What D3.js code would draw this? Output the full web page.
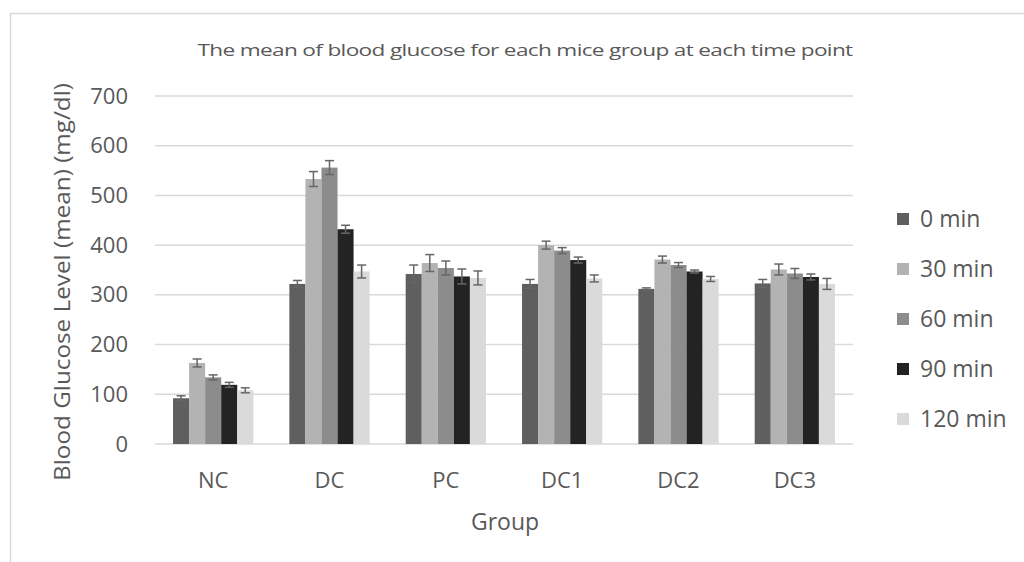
<!DOCTYPE html>
<html lang="en">
<head>
  <meta charset="UTF-8">
  <title>Blood glucose</title>
  <script src="https://d3js.org/d3.v7.min.js" charset="utf-8"></script>
  <style>
    body { margin: 0; background: #fff; }
    text { font-family: "Open Sans", sans-serif; fill: #595959; }
  </style>
</head>
<body>
  <div id="wrapper"></div>
  <script>
    const groups = ['NC', 'DC', 'PC', 'DC1', 'DC2', 'DC3']
    const times = ['0 min', '30 min', '60 min', '90 min', '120 min']
    const colors = ['#5f5f5f', '#b3b3b3', '#8c8c8c', '#232323', '#dadada']
    const yTicks = [0, 100, 200, 300, 400, 500, 600, 700]

    // mean per group, one array per time point
    const mean0 = [92, 322, 342, 322, 312, 323]
    const mean30 = [163, 533, 364, 400, 371, 351]
    const mean60 = [134, 556, 354, 389, 360, 343]
    const mean90 = [119, 432, 337, 370, 347, 336]
    const mean120 = [108, 347, 334, 333, 332, 322]

    // error (+/-) per group
    const err0 = [5, 7, 18, 9, 2, 8]
    const err30 = [8, 15, 17, 8, 7, 11]
    const err60 = [5, 14, 14, 6, 5, 10]
    const err90 = [5, 8, 15, 6, 3, 6]
    const err120 = [5, 13, 14, 7, 5, 11]

    const means = [mean0, mean30, mean60, mean90, mean120]
    const errs = [err0, err30, err60, err90, err120]

    const dataset = groups.map((g, i) => ({
      group: g,
      values: times.map((t, j) => ({ time: t, mean: means[j][i], err: errs[j][i], idx: j }))
    }))

    const width = 1024
    const height = 562
    const plot = { left: 155, right: 853, top: 96, bottom: 444 }

    const svg = d3.select('#wrapper')
      .append('svg')
        .attr('width', width)
        .attr('height', height)

    // chart frame
    svg.append('rect')
      .attr('x', 10.5)
      .attr('y', 13.5)
      .attr('width', width)
      .attr('height', height)
      .attr('fill', 'none')
      .attr('stroke', '#d9d9d9')
      .attr('stroke-width', 1.5)

    const yScale = d3.scaleLinear()
      .domain([0, 700])
      .range([plot.bottom, plot.top])

    const x0 = d3.scaleBand()
      .domain(groups)
      .range([plot.left, plot.right])
      .paddingInner(0.31)
      .paddingOuter(0.155)

    const x1 = d3.scaleBand()
      .domain(times)
      .range([0, x0.bandwidth()])

    const colorScale = d3.scaleOrdinal().domain(times).range(colors)

    // gridlines
    svg.append('g')
      .selectAll('line')
      .data(yTicks)
      .join('line')
        .attr('x1', plot.left)
        .attr('x2', plot.right)
        .attr('y1', d => yScale(d))
        .attr('y2', d => yScale(d))
        .attr('stroke', '#d9d9d9')
        .attr('stroke-width', 1.5)

    // y axis labels
    const yAxis = svg.append('g')
      .attr('transform', `translate(${plot.left}, 0)`)
      .call(d3.axisLeft(yScale).tickValues(yTicks).tickSize(0).tickPadding(27))
    yAxis.select('.domain').remove()
    yAxis.selectAll('text')
      .attr('font-size', 22)
      .attr('font-family', '"Open Sans", sans-serif')
      .style('fill', '#595959')

    // x axis labels
    const xAxis = svg.append('g')
      .attr('transform', `translate(0, ${plot.bottom})`)
      .call(d3.axisBottom(x0).tickSize(0).tickPadding(28))
    xAxis.select('.domain').remove()
    xAxis.selectAll('text')
      .attr('font-size', 22)
      .attr('font-family', '"Open Sans", sans-serif')
      .style('fill', '#595959')

    // bars
    const groupG = svg.append('g')
      .selectAll('g')
      .data(dataset)
      .join('g')
        .attr('transform', d => `translate(${x0(d.group)}, 0)`)

    groupG.selectAll('rect')
      .data(d => d.values)
      .join('rect')
        .attr('x', d => x1(d.time))
        .attr('width', x1.bandwidth())
        .attr('y', d => yScale(d.mean))
        .attr('height', d => yScale(0) - yScale(d.mean))
        .attr('fill', d => colorScale(d.time))

    // error bars
    const capW = 4.5
    const errG = groupG.selectAll('g.err')
      .data(d => d.values)
      .join('g')
        .attr('class', 'err')
        .attr('transform', d => `translate(${x1(d.time) + x1.bandwidth() / 2}, 0)`)
        .attr('stroke', '#666')
        .attr('stroke-width', 1.5)

    errG.append('line')
      .attr('x1', 0).attr('x2', 0)
      .attr('y1', d => yScale(d.mean - d.err))
      .attr('y2', d => yScale(d.mean + d.err))
    errG.append('line')
      .attr('x1', -capW).attr('x2', capW)
      .attr('y1', d => yScale(d.mean + d.err))
      .attr('y2', d => yScale(d.mean + d.err))
    errG.append('line')
      .attr('x1', -capW).attr('x2', capW)
      .attr('y1', d => yScale(d.mean - d.err))
      .attr('y2', d => yScale(d.mean - d.err))

    // title
    svg.append('text')
      .attr('x', 525)
      .attr('y', 56)
      .attr('text-anchor', 'middle')
      .attr('font-size', 17)
      .attr('textLength', 655)
      .attr('lengthAdjust', 'spacingAndGlyphs')
      .style('letter-spacing', '-0.5px')
      .text('The mean of blood glucose for each mice group at each time point')

    // axis titles
    svg.append('text')
      .attr('transform', `translate(70, 282) rotate(-90)`)
      .attr('text-anchor', 'middle')
      .attr('font-size', 22)
      .attr('textLength', 398)
      .attr('lengthAdjust', 'spacingAndGlyphs')
      .text('Blood Glucose Level (mean) (mg/dl)')

    svg.append('text')
      .attr('x', 505)
      .attr('y', 530)
      .attr('text-anchor', 'middle')
      .attr('font-size', 23)
      .text('Group')

    // legend
    const legendY = d3.scalePoint().domain(times).range([219, 419])
    const legend = svg.append('g')
      .selectAll('g')
      .data(times)
      .join('g')
        .attr('transform', d => `translate(897, ${legendY(d)})`)

    legend.append('rect')
      .attr('x', 0)
      .attr('y', -6)
      .attr('width', 12)
      .attr('height', 12)
      .attr('fill', d => colorScale(d))

    legend.append('text')
      .attr('x', 23)
      .attr('dy', '0.35em')
      .attr('font-size', 23)
      .text(d => d)
  </script>
</body>
</html>
